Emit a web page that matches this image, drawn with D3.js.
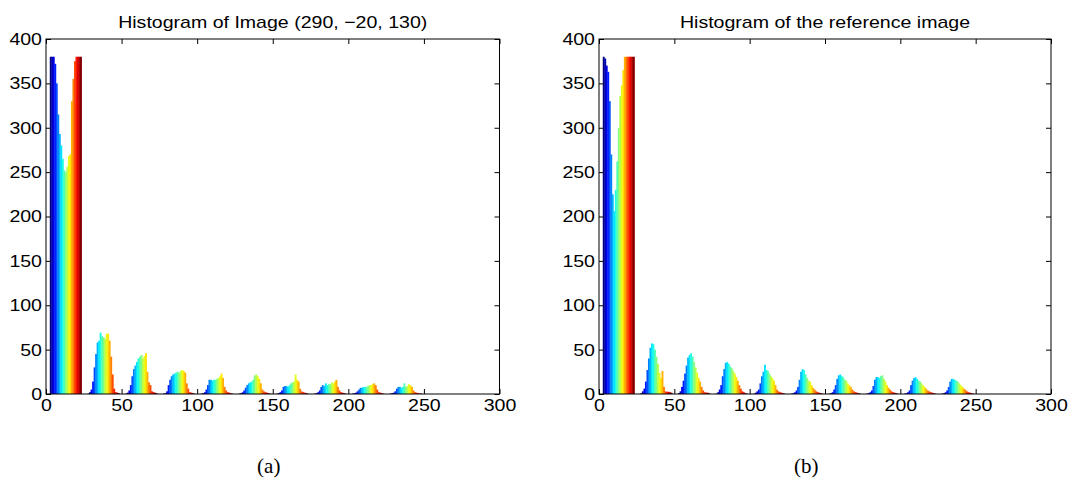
<!DOCTYPE html>
<html><head><meta charset="utf-8">
<script src="https://cdn.jsdelivr.net/npm/d3@7/dist/d3.min.js"></script>
<style>body{margin:0;background:#fff;}svg{display:block;}</style>
</head><body>
<svg id="c" width="1075" height="494"></svg>
<script>
const xTicks = [0,50,100,150,200,250,300];
const yTicks = [0,50,100,150,200,250,300,350,400];
const titles = ["Histogram of Image (290, \u221220, 130)", "Histogram of the reference image"];
const captions = ["(a)", "(b)"];
const groupStarts = [3,28,53,78,103,128,153,178,203,228];

const leftCounts = [
 [380,380,380,372,350,315,293,280,265,252,250,256,268,270,330,355,375,380,380,380,380],
 [0.5,2,5,14,30,45,58,60,69,65,64,62,68,68,60,42,22,6,2,1.5,1],
 [0.5,1.5,4,10,20,28,32,36,40,42,44,40,43,46,25,13,10,3,2,1.5,1],
 [0.5,1,3,10,16,20,22,23,24,25,24,26,27,26,24,12,6,2,1.5,1,0.5],
 [0.5,1,2,5,10,16,16,15,16,16,17,18,20,23,18,8,4,2,1.5,1,0.5],
 [0.5,1,2,4,7,10,12,13,14,16,21,22,20,17,12,5,3,2,1.5,1,0.5],
 [0.5,1,2,4,8,9,9,8,10,12,13,14,22,16,14,6,3,2,1.5,1,0.5],
 [0.5,1,2,4,8,10,9,12,10,11,11,13,12,14,16,8,4,2,1.5,1,0.5],
 [0.5,1,1.5,3,5,7,7,8,8,8,9,10,10,11,12,10,5,2,1.5,1,0.5],
 [0.5,1,1.5,3,6,8,8,7,8,12,8,9,11,10,8,4,2,1.5,1,0.5,0.5]
];
const rightCounts = [
 [380,378,370,363,330,270,225,206,230,262,300,336,348,365,380,380,380,380,380,380,380],
 [1,3,6,14,27,40,52,57,56,50,42,34,24,18,26,8,3,2.5,2.5,2,1.5],
 [1,3,8,15,23,32,41,44,46,42,36,30,24,18,14,8,4,2,1.5,1.5,1],
 [0.5,2,5,10,20,28,35,36,34,31,29,26,23,19,15,10,6,3,2,1,0.5],
 [0.5,1.5,3,5,12,20,25,33,27,26,23,20,18,15,10,5,3,2,1.5,1,0.5],
 [0.5,1,2,4,8,16,25,28,27,22,18,15,14,10,7,5,3,2,1.5,1,0.5],
 [0.5,1,2,5,10,17,21,22,20,19,16,15,12,10,8,5,3,2,1.5,1,0.5],
 [0.5,1,2,4,9,16,19,19,18,20,21,17,14,10,7,5,3,2,1.5,1,0.5],
 [0.5,1,2,4,10,15,18,19,17,15,14,12,10,8,6,4,3,2,1.5,1,0.5],
 [0.5,1,2,4,8,14,17,17,16,15,14,12,10,8,6,5,3,2,1.5,1,0.5]
];

const SX = 1.15;
const FS = 17;
const svg = d3.select("#c");

function jet(t){
  const c = v => Math.max(0, Math.min(1, v));
  const r = c(1.5 - Math.abs(4*t - 3)), g = c(1.5 - Math.abs(4*t - 2)), b = c(1.5 - Math.abs(4*t - 1));
  return d3.rgb(r*255, g*255, b*255).toString();
}
function stretch(sel){
  sel.each(function(){ const L = this.getComputedTextLength(); this.setAttribute("textLength", L*SX); this.setAttribute("lengthAdjust","spacingAndGlyphs"); });
}

const panels = [
  {counts: leftCounts, x0: 46, x1: 499.5, cap: 268.75},
  {counts: rightCounts, x0: 599, x1: 1051, cap: 806.25}
];
const plotTop = 39, plotBot = 394;

panels.forEach((p, pi) => {
  const x = d3.scaleLinear().domain([0,300]).range([p.x0, p.x1]);
  const y = d3.scaleLinear().domain([0,400]).range([plotBot, plotTop]);
  const g = svg.append("g");
  const bins = [];
  p.counts.forEach((arr, gi) => arr.forEach((v, j) => bins.push({b: groupStarts[gi] + j, v, t: j/(arr.length-1)})));
  g.selectAll("rect.bar").data(bins).join("rect").attr("class","bar")
    .attr("x", d => x(d.b - 0.5))
    .attr("width", d => x(d.b + 0.5) - x(d.b - 0.5) + 0.4)
    .attr("y", d => y(d.v))
    .attr("height", d => y(0) - y(d.v))
    .attr("fill", d => jet(d.t));

  const ax = (axis, tr) => {
    const a = g.append("g").attr("transform", tr).call(axis);
    a.select(".domain").remove();
    a.selectAll("line").attr("stroke","#000");
    return a;
  };
  const ab = ax(d3.axisBottom(x).tickValues(xTicks).tickSize(-5).tickPadding(5).tickFormat(d3.format("d")), `translate(0,${plotBot})`);
  ax(d3.axisTop(x).tickValues(xTicks).tickSize(-5).tickFormat(""), `translate(0,${plotTop})`);
  const al = ax(d3.axisLeft(y).tickValues(yTicks).tickSize(-5).tickPadding(4).tickFormat(d3.format("d")), `translate(${p.x0},0)`);
  ax(d3.axisRight(y).tickValues(yTicks).tickSize(-5).tickFormat(""), `translate(${p.x1},0)`);
  [ab, al].forEach(a => a.selectAll("text").attr("font-family","'Liberation Sans', Arial, sans-serif").attr("font-size", FS).attr("fill","#000").call(stretch));

  g.append("rect").attr("x", p.x0).attr("y", plotTop).attr("width", p.x1 - p.x0).attr("height", plotBot - plotTop)
    .attr("fill","none").attr("stroke","#000").attr("stroke-width",1);

  g.append("text").attr("x", (p.x0+p.x1)/2).attr("y", plotTop - 11).attr("text-anchor","middle")
    .attr("font-family","'Liberation Sans', Arial, sans-serif").attr("font-size", FS).text(titles[pi]).call(stretch);
  g.append("text").attr("x", p.cap).attr("y", 473).attr("text-anchor","middle")
    .attr("font-family","'Liberation Serif', 'Times New Roman', serif").attr("font-size", 21).text(captions[pi]);
});
</script>
</body></html>
